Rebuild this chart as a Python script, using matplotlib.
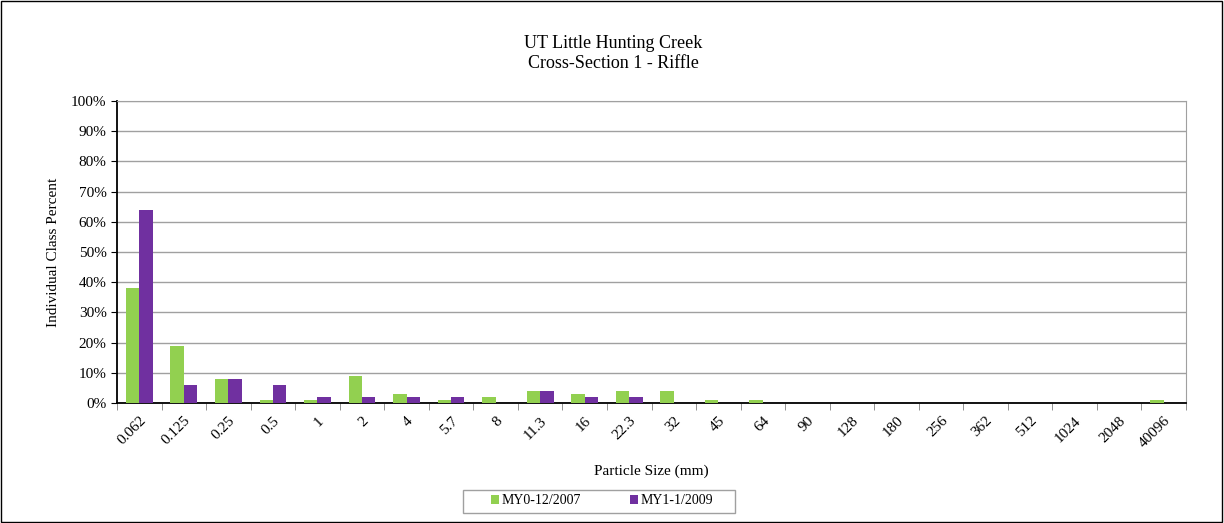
import matplotlib.pyplot as plt
import numpy as np

# tamaños de particula (mm)
categorias = ['0.062', '0.125', '0.25', '0.5', '1', '2', '4', '5.7', '8', '11.3',
              '16', '22.3', '32', '45', '64', '90', '128', '180', '256', '362',
              '512', '1024', '2048', '40096']
my0 = [38, 19, 8, 1, 1, 9, 3, 1, 2, 4, 3, 4, 4, 1, 1, 0, 0, 0, 0, 0, 0, 0, 0, 1]
my1 = [64, 6, 8, 6, 2, 2, 2, 2, 0, 4, 2, 2, 0, 0, 0, 0, 0, 0, 0, 0, 0, 0, 0, 0]

plt.rcParams['font.family'] = ['Liberation Serif', 'DejaVu Serif']

fig = plt.figure(figsize=(12.24, 5.23), dpi=100)
ax = fig.add_axes([117/1224, 1 - 403/523, (1186-117)/1224, (403-101)/523])

x = np.arange(len(categorias))
w = 0.3
ax.bar(x - w/2, my0, w, color='#92d050', label='MY0-12/2007', zorder=3)
ax.bar(x + w/2, my1, w, color='#7030a0', label='MY1-1/2009', zorder=3)

ax.set_xlim(-0.5, len(categorias) - 0.5)
ax.set_ylim(0, 100)
ax.set_yticks(range(0, 101, 10))
ax.set_yticklabels([f'{v}%' for v in range(0, 101, 10)], fontsize=11)
ax.yaxis.grid(True, color='#a0a0a0', linewidth=1, zorder=0)
ax.set_xticks(x)
ax.set_xticklabels(categorias, rotation=45, ha='right', rotation_mode='anchor', fontsize=11)
ax.set_xticks(np.arange(-0.5, len(categorias), 1), minor=True)
ax.tick_params(axis='x', which='major', length=0, pad=8)
ax.tick_params(axis='x', which='minor', length=5, color='#808080')
ax.tick_params(axis='y', length=4)

for s in ['top', 'right']:
    ax.spines[s].set_color('#a0a0a0')
ax.spines['bottom'].set_linewidth(1.3)
ax.spines['left'].set_linewidth(1.3)

ax.set_xlabel('Particle Size (mm)', fontsize=11, labelpad=10)
ax.set_ylabel('Individual Class Percent', fontsize=11, labelpad=8)

fig.text(613/1224, 1 - 44/523, 'UT Little Hunting Creek', ha='center', va='center', fontsize=13)
fig.text(613/1224, 1 - 64/523, 'Cross-Section 1 - Riffle', ha='center', va='center', fontsize=13)

leg = fig.legend(loc='center', bbox_to_anchor=(602/1224, 1 - 501/523), ncol=2,
                 fontsize=10, frameon=False,
                 handlelength=0.6, handleheight=0.6, handletextpad=0.2,
                 columnspacing=3.5, borderpad=0.3)

# marco de la leyenda
fig.patches.append(plt.Rectangle((463/1224, 1 - 513/523), 272/1224, 23/523,
                                 transform=fig.transFigure, fill=False,
                                 edgecolor='#a0a0a0', linewidth=1))

# borde exterior
fig.patches.append(plt.Rectangle((0.001, 0.002), 0.997, 0.996, transform=fig.transFigure,
                                 fill=False, edgecolor='black', linewidth=1))

fig.savefig('out.png', dpi=100)
